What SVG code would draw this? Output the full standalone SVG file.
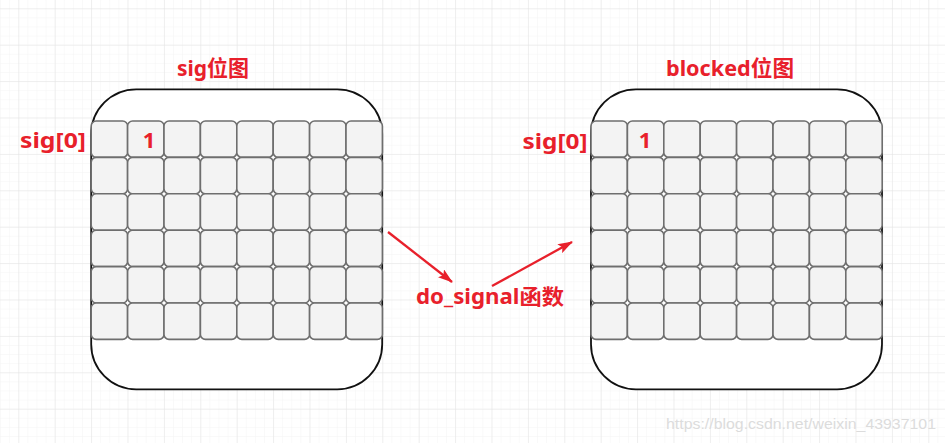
<svg xmlns="http://www.w3.org/2000/svg" xmlns:xlink="http://www.w3.org/1999/xlink" width="945" height="443" viewBox="0 0 945 443">
<style>
.lbl{font-family:"Noto Sans","Noto Sans CJK SC",sans-serif;font-weight:bold;fill:#e8202b;}
.box{fill:#ffffff;stroke:#111;stroke-width:1.8;}
.cell{fill:#f3f3f3;stroke:#6e6e6e;stroke-width:1.6;}
.arr{stroke:#e8202b;stroke-width:2.3;fill:none;marker-end:url(#ah);}
.wm{font-family:"Liberation Sans",Arial,sans-serif;font-size:15px;fill:#dcdcdc;}
</style>
<defs>
<pattern id="minor" patternUnits="userSpaceOnUse" x="18.3" y="8.3" width="9.1" height="9.1">
<path d="M0 0H9.1M0 0V9.1" stroke="#f4f4f4" stroke-width="1" fill="none"/>
</pattern>
<pattern id="major" patternUnits="userSpaceOnUse" x="18.3" y="8.3" width="36.4" height="36.4">
<path d="M0 0H36.4M0 0V36.4" stroke="#e4e4e4" stroke-width="1" fill="none"/>
</pattern>
<marker id="ah" markerWidth="15" markerHeight="10" refX="14" refY="5" orient="auto" markerUnits="userSpaceOnUse">
<path d="M0 0L15 5L0 10L3 5Z" fill="#e8202b"/>
</marker>
<g id="row">
<rect class="cell" x="0" y="0" width="36.4" height="36.4" rx="5"/>
<rect class="cell" x="36.4" y="0" width="36.4" height="36.4" rx="5"/>
<rect class="cell" x="72.8" y="0" width="36.4" height="36.4" rx="5"/>
<rect class="cell" x="109.2" y="0" width="36.4" height="36.4" rx="5"/>
<rect class="cell" x="145.6" y="0" width="36.4" height="36.4" rx="5"/>
<rect class="cell" x="182" y="0" width="36.4" height="36.4" rx="5"/>
<rect class="cell" x="218.4" y="0" width="36.4" height="36.4" rx="5"/>
<rect class="cell" x="254.8" y="0" width="36.4" height="36.4" rx="5"/>
</g>
<g id="grid">
<use xlink:href="#row" href="#row" y="0"/>
<use xlink:href="#row" href="#row" y="36.4"/>
<use xlink:href="#row" href="#row" y="72.8"/>
<use xlink:href="#row" href="#row" y="109.2"/>
<use xlink:href="#row" href="#row" y="145.6"/>
<use xlink:href="#row" href="#row" y="182"/>
</g>
</defs>
<rect width="945" height="443" fill="#ffffff"/>
<rect width="945" height="443" fill="url(#minor)"/>
<rect width="945" height="443" fill="url(#major)"/>

<g id="sig-bitmap">
<rect class="box" x="91.2" y="89.3" width="291" height="300" rx="45" ry="45"/>
<use xlink:href="#grid" href="#grid" x="91.2" y="121"/>
<text class="lbl" x="177" y="76" font-size="21.5" textLength="72" lengthAdjust="spacingAndGlyphs">sig位图</text>
<text class="lbl" x="20" y="148" font-size="22" textLength="66" lengthAdjust="spacingAndGlyphs">sig[0]</text>
<text class="lbl" x="149" y="148" font-size="22" text-anchor="middle">1</text>
</g>

<g id="blocked-bitmap">
<rect class="box" x="591" y="89.3" width="291" height="300" rx="45" ry="45"/>
<use xlink:href="#grid" href="#grid" x="591" y="121"/>
<text class="lbl" x="666" y="76" font-size="21.5" textLength="128" lengthAdjust="spacingAndGlyphs">blocked位图</text>
<text class="lbl" x="522.5" y="149" font-size="22" textLength="65" lengthAdjust="spacingAndGlyphs">sig[0]</text>
<text class="lbl" x="645" y="148" font-size="22" text-anchor="middle">1</text>
</g>

<g id="do-signal">
<text class="lbl" x="416" y="304" font-size="21" textLength="148" lengthAdjust="spacingAndGlyphs">do_signal函数</text>
</g>

<g id="connectors">
<line class="arr" x1="388" y1="232" x2="452" y2="282"/>
<line class="arr" x1="492" y1="286" x2="572" y2="242"/>
</g>

<text class="wm" x="666" y="429" textLength="270" lengthAdjust="spacingAndGlyphs">https://blog.csdn.net/weixin_43937101</text>
</svg>
